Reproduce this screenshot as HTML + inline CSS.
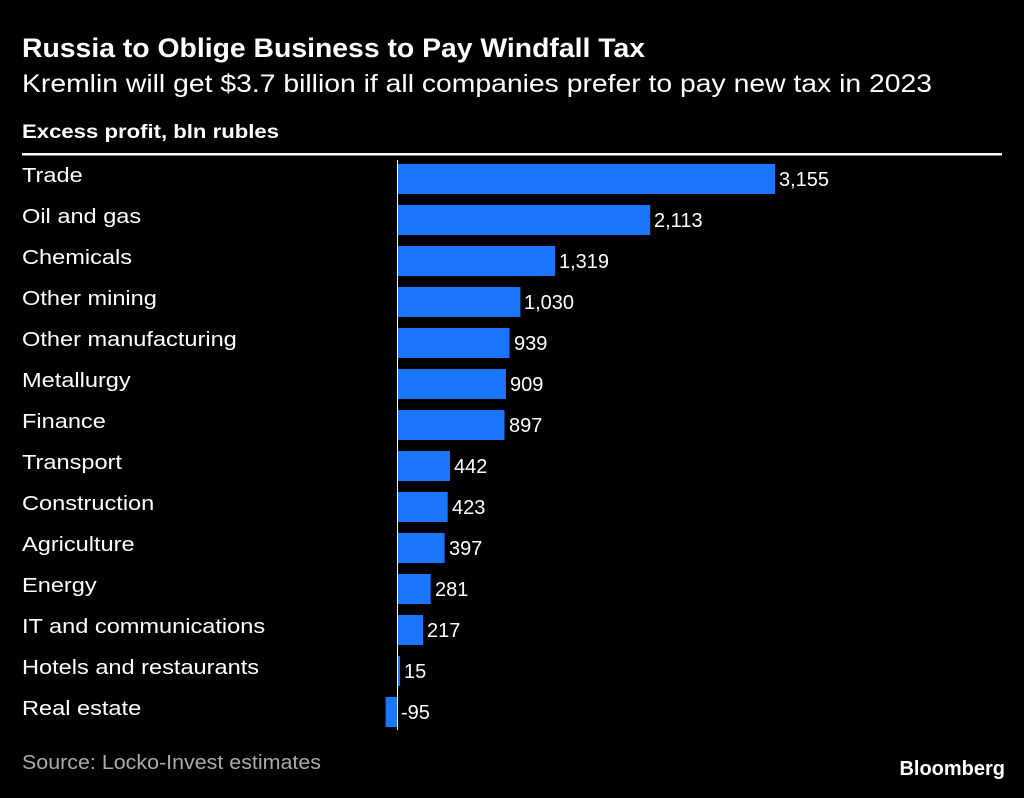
<!DOCTYPE html>
<html><head><meta charset="utf-8"><style>
body{margin:0;background:#000;width:1024px;height:793px;overflow:hidden}
</style></head><body>
<svg width="1024" height="793" xmlns="http://www.w3.org/2000/svg" font-family="Liberation Sans, sans-serif">
<rect width="1024" height="793" fill="#000"/>
<text x="22" y="57" font-size="27" font-weight="bold" fill="#fff" textLength="623" lengthAdjust="spacingAndGlyphs">Russia to Oblige Business to Pay Windfall Tax</text>
<text x="22" y="92" font-size="25" fill="#fff" textLength="910" lengthAdjust="spacingAndGlyphs">Kremlin will get $3.7 billion if all companies prefer to pay new tax in 2023</text>
<text x="22" y="138" font-size="19" font-weight="bold" fill="#fff" textLength="257" lengthAdjust="spacingAndGlyphs">Excess profit, bln rubles</text>
<rect x="22" y="153" width="980" height="2.5" fill="#fff"/>
<g font-size="20.5" fill="#fff" transform="translate(22,0) scale(1.15,1) translate(-22,0)">
<text x="22" y="182">Trade</text>
<text x="22" y="223">Oil and gas</text>
<text x="22" y="264">Chemicals</text>
<text x="22" y="305">Other mining</text>
<text x="22" y="346">Other manufacturing</text>
<text x="22" y="387">Metallurgy</text>
<text x="22" y="428">Finance</text>
<text x="22" y="469">Transport</text>
<text x="22" y="510">Construction</text>
<text x="22" y="551">Agriculture</text>
<text x="22" y="592">Energy</text>
<text x="22" y="633">IT and communications</text>
<text x="22" y="674">Hotels and restaurants</text>
<text x="22" y="715">Real estate</text>
</g>
<g font-size="20" fill="#fff">
<rect x="397" y="164" width="378" height="30" fill="#1a75ff"/><text x="779" y="186">3,155</text>
<rect x="397" y="205" width="253.2" height="30" fill="#1a75ff"/><text x="654" y="227">2,113</text>
<rect x="397" y="246" width="158" height="30" fill="#1a75ff"/><text x="559" y="268">1,319</text>
<rect x="397" y="287" width="123.4" height="30" fill="#1a75ff"/><text x="524" y="309">1,030</text>
<rect x="397" y="328" width="112.5" height="30" fill="#1a75ff"/><text x="514" y="350">939</text>
<rect x="397" y="369" width="108.9" height="30" fill="#1a75ff"/><text x="510" y="391">909</text>
<rect x="397" y="410" width="107.5" height="30" fill="#1a75ff"/><text x="509" y="432">897</text>
<rect x="397" y="451" width="53" height="30" fill="#1a75ff"/><text x="454" y="473">442</text>
<rect x="397" y="492" width="50.7" height="30" fill="#1a75ff"/><text x="452" y="514">423</text>
<rect x="397" y="533" width="47.6" height="30" fill="#1a75ff"/><text x="449" y="555">397</text>
<rect x="397" y="574" width="33.7" height="30" fill="#1a75ff"/><text x="435" y="596">281</text>
<rect x="397" y="615" width="26" height="30" fill="#1a75ff"/><text x="427" y="637">217</text>
<rect x="397" y="656" width="3" height="30" fill="#1a75ff"/><text x="404" y="678">15</text>
<rect x="385.6" y="697" width="11.4" height="30" fill="#1a75ff"/><text x="401" y="719">-95</text>
</g>
<line x1="397.5" y1="160" x2="397.5" y2="730" stroke="#fff" stroke-width="1"/>
<text x="22" y="769" font-size="20" fill="#aaa" textLength="299" lengthAdjust="spacingAndGlyphs">Source: Locko-Invest estimates</text>
<text x="1005" y="775" font-size="20" font-weight="bold" fill="#fff" text-anchor="end">Bloomberg</text>
</svg>
</body></html>
